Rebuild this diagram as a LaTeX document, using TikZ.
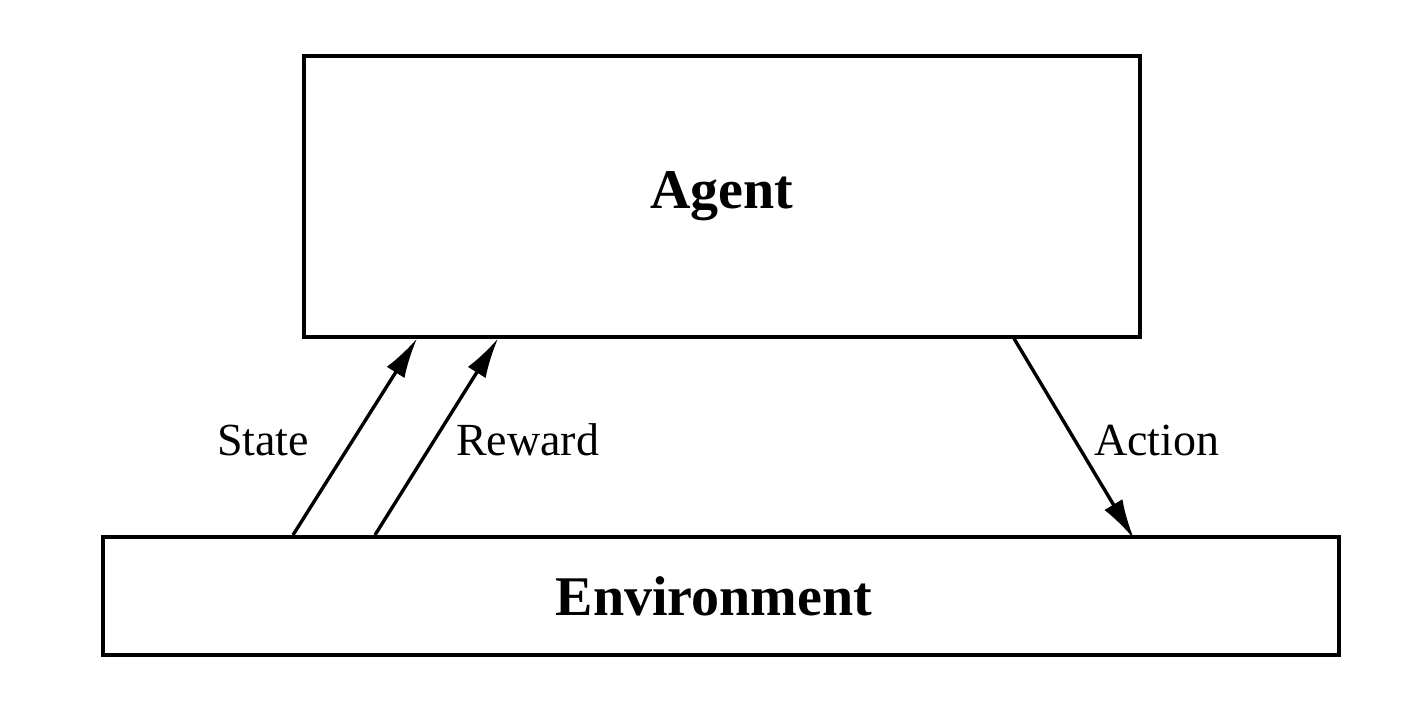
\documentclass[tikz,border=0pt]{standalone}
\usepackage{fontspec}
\setmainfont{Liberation Serif}
\usetikzlibrary{calc,arrows.meta}
\begin{document}
\begin{tikzpicture}[x=1pt,y=-1pt,
  box/.style={draw=black,line width=4pt,rectangle,inner sep=0pt},
  bigtext/.style={font=\fontsize{56}{60}\selectfont\bfseries},
  lbl/.style={font=\fontsize{46}{50}\selectfont,inner sep=0pt},
  conn/.style={line width=3.4pt,-{Latex[length=40pt,width=21pt]}}]
\useasboundingbox (0,0) rectangle (1404,708);
\node[box,minimum width=836pt,minimum height=280pt,bigtext] (agent) at (722,196.5) {Agent};
\node[box,minimum width=1236pt,minimum height=118pt,bigtext] (env) at (721,596) {Environment\hspace*{14pt}};
% connectors
\coordinate (s0) at ($(env.north west)+(192,0)$);
\coordinate (s1) at ($(agent.south west)+(115,0)$);
\coordinate (r0) at ($(env.north west)+(274,0)$);
\coordinate (r1) at ($(agent.south west)+(196,0)$);
\coordinate (a0) at ($(agent.south west)+(712,0)$);
\coordinate (a1) at ($(env.north west)+(1033,4)$);
\draw[conn] (s0) -- (s1);
\draw[conn] (r0) -- (r1);
\draw[conn] (a0) -- (a1);
\node[lbl,anchor=base west] (state) at (217,455) {State};
\node[lbl,anchor=base west] (reward) at (456,455) {Reward};
\node[lbl,anchor=base west] (action) at (1094,455) {Action};
\end{tikzpicture}
\end{document}
